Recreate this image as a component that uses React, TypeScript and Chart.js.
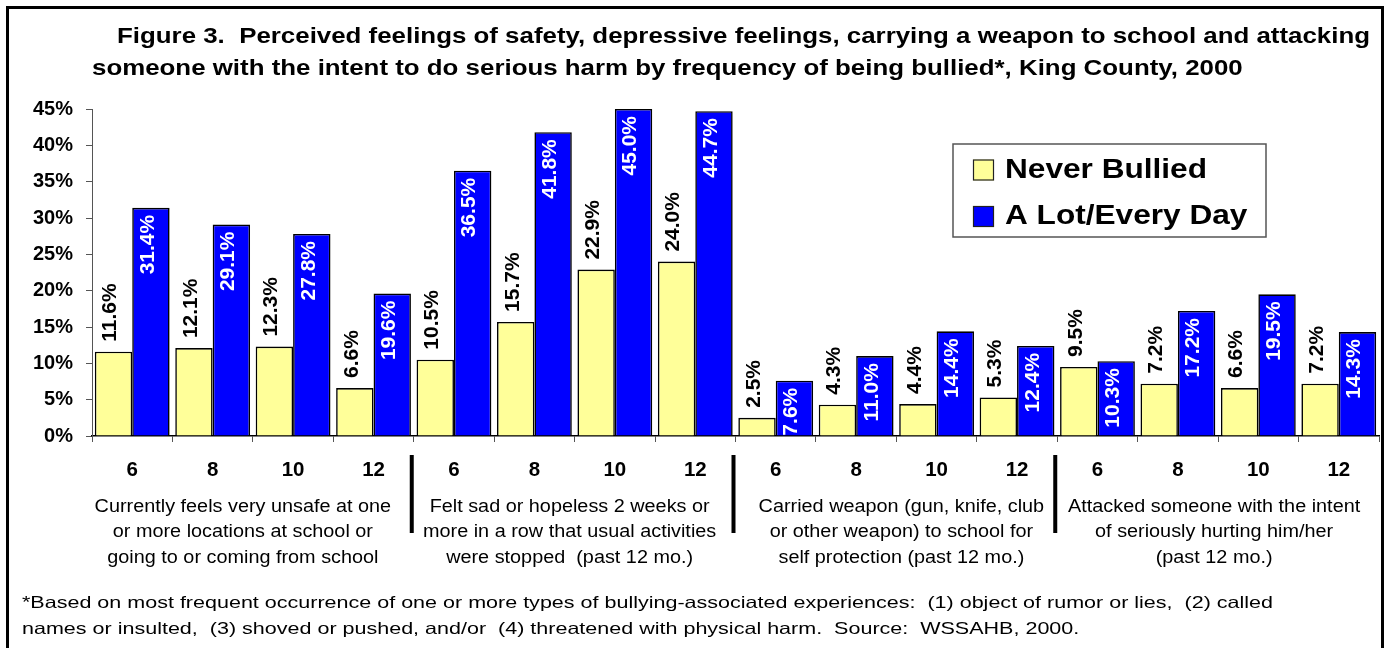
import React, { useEffect, useRef } from "react";
import { Chart, registerables } from "chart.js";

Chart.register(...registerables);

const grades = ["6", "8", "10", "12", "6", "8", "10", "12", "6", "8", "10", "12", "6", "8", "10", "12"];
const neverBullied = [11.6, 12.1, 12.3, 6.6, 10.5, 15.7, 22.9, 24.0, 2.5, 4.3, 4.4, 5.3, 9.5, 7.2, 6.6, 7.2];
const aLotEveryDay = [31.4, 29.1, 27.8, 19.6, 36.5, 41.8, 45.0, 44.7, 7.6, 11.0, 14.4, 12.4, 10.3, 17.2, 19.5, 14.3];
const seriesNames = ["Never Bullied", "A Lot/Every Day"];
const seriesColors = ["#FFFF99", "#0000FF"];
const labelColors = ["#000000", "#FFFFFF"];

const groupLabels = [
  ["Currently feels very unsafe at one", "or more locations at school or", "going to or coming from school"],
  ["Felt sad or hopeless 2 weeks or", "more in a row that usual activities", "were stopped  (past 12 mo.)"],
  ["Carried weapon (gun, knife, club", "or other weapon) to school for", "self protection (past 12 mo.)"],
  ["Attacked someone with the intent", "of seriously hurting him/her", "(past 12 mo.)"],
];
const groupLabelShift = [-10, -5, 5, -4];

const titleLines = [
  "Figure 3.  Perceived feelings of safety, depressive feelings, carrying a weapon to school and attacking",
  "someone with the intent to do serious harm by frequency of being bullied*, King County, 2000",
];

const footnoteLines = [
  "*Based on most frequent occurrence of one or more types of bullying-associated experiences:  (1) object of rumor or lies,  (2) called",
  "names or insulted,  (3) shoved or pushed, and/or  (4) threatened with physical harm.  Source:  WSSAHB, 2000.",
];

const Y_MIN = 0;
const Y_MAX = 45;
const Y_STEP = 5;

const FONT = '"Liberation Sans", Arial, Helvetica, sans-serif';

function drawScaled(ctx: CanvasRenderingContext2D, text: string, x: number, y: number, font: string, sx: number, align: string) {
  ctx.font = font;
  const w = ctx.measureText(text).width * sx;
  const left = align === "center" ? x - w / 2 : align === "right" ? x - w : x;
  ctx.save();
  ctx.translate(left, y);
  ctx.scale(sx, 1);
  ctx.textAlign = "left";
  ctx.fillText(text, 0, 0);
  ctx.restore();
}

function fitScale(ctx: CanvasRenderingContext2D, text: string, font: string, target: number) {
  ctx.font = font;
  return target / ctx.measureText(text).width;
}

const valueLabelPlugin = {
  id: "valueLabels",
  afterDatasetsDraw(chart: any) {
    const ctx: CanvasRenderingContext2D = chart.ctx;
    chart.data.datasets.forEach((ds: any, di: number) => {
      const meta = chart.getDatasetMeta(di);
      meta.data.forEach((bar: any, i: number) => {
        const v = ds.data[i];
        const txt = v.toFixed(1) + "%";
        ctx.save();
        ctx.font = `bold 21px ${FONT}`;
        ctx.fillStyle = labelColors[di];
        ctx.textBaseline = "middle";
        if (di === 0) {
          ctx.translate(bar.x - 3, bar.y - 10);
          ctx.rotate(-Math.PI / 2);
          ctx.textAlign = "left";
        } else {
          ctx.translate(bar.x - 3, bar.y + 7);
          ctx.rotate(-Math.PI / 2);
          ctx.textAlign = "right";
        }
        ctx.fillText(txt, 0, 0);
        ctx.restore();
      });
    });
  },
};

const decorPlugin = {
  id: "decor",
  afterDraw(chart: any) {
    const ctx: CanvasRenderingContext2D = chart.ctx;
    const xs = chart.scales.x;
    const area = chart.chartArea;
    const catW = (area.right - area.left) / grades.length;

    ctx.save();
    ctx.fillStyle = "#000";
    ctx.textBaseline = "alphabetic";

    // Title
    const tFont = `bold 21.5px ${FONT}`;
    const tsx = fitScale(ctx, titleLines[0], tFont, 1253);
    drawScaled(ctx, titleLines[0], 117, 43, tFont, tsx, "left");
    drawScaled(ctx, titleLines[1], 92, 75, tFont, tsx, "left");

    // Legend
    ctx.strokeStyle = "#555";
    ctx.lineWidth = 1.5;
    ctx.strokeRect(953, 144, 313, 93);
    const lFont = `bold 28px ${FONT}`;
    const lsx = fitScale(ctx, seriesNames[0], lFont, 202);
    const legY = [177.5, 224];
    seriesNames.forEach((name, i) => {
      ctx.fillStyle = seriesColors[i];
      ctx.fillRect(973, legY[i] - 18, 21, 21);
      ctx.strokeStyle = "#222";
      ctx.lineWidth = 1.2;
      ctx.strokeRect(973.5, legY[i] - 17.5, 20, 20);
      ctx.fillStyle = "#000";
      drawScaled(ctx, name, 1005, legY[i], lFont, lsx, "left");
    });

    // Group separators and labels
    const gFont = `17.5px ${FONT}`;
    const gsx = fitScale(ctx, groupLabels[1][0], gFont, 280);
    ctx.textBaseline = "middle";
    groupLabels.forEach((lines, g) => {
      const c0 = xs.getPixelForValue(g * 4);
      const c3 = xs.getPixelForValue(g * 4 + 3);
      const center = (c0 + c3) / 2;
      if (g > 0) {
        const bx = c0 - catW / 2 - 2;
        ctx.fillStyle = "#000";
        ctx.fillRect(bx - 2, 455, 4, 78);
      }
      ctx.fillStyle = "#000";
      lines.forEach((ln, k) => {
        drawScaled(ctx, ln, center + groupLabelShift[g], 507 + k * 25.5, gFont, gsx, "center");
      });
    });

    // Footnote
    ctx.textBaseline = "alphabetic";
    const fFont = `16.5px ${FONT}`;
    const fsx = fitScale(ctx, footnoteLines[0], fFont, 1251);
    drawScaled(ctx, footnoteLines[0], 22, 608, fFont, fsx, "left");
    drawScaled(ctx, footnoteLines[1], 22, 634, fFont, fsx, "left");

    // Outer border
    ctx.strokeStyle = "#000";
    ctx.lineWidth = 3;
    ctx.strokeRect(7.5, 7.5, 1375, 700);
    ctx.restore();
  },
};

export default function App() {
  const ref = useRef<HTMLCanvasElement | null>(null);

  useEffect(() => {
    document.body.style.margin = "0";
    const canvas = ref.current;
    if (!canvas) return;
    const chart = new Chart(canvas, {
      type: "bar",
      data: {
        labels: grades,
        datasets: [
          {
            label: seriesNames[0],
            data: neverBullied,
            backgroundColor: seriesColors[0],
            borderColor: "#000",
            borderWidth: 1.6,
            categoryPercentage: 0.93,
            barPercentage: 1.0,
          },
          {
            label: seriesNames[1],
            data: aLotEveryDay,
            backgroundColor: seriesColors[1],
            borderColor: "#000",
            borderWidth: 1.6,
            categoryPercentage: 0.93,
            barPercentage: 1.0,
          },
        ],
      },
      options: {
        responsive: false,
        animation: false,
        devicePixelRatio: 1,
        layout: { padding: { top: 109, right: 8, left: 0, bottom: 0 } },
        plugins: {
          legend: { display: false },
          title: { display: false },
          tooltip: { enabled: false },
        },
        scales: {
          x: {
            grid: { offset: true, drawOnChartArea: false, tickLength: 6, color: "#555" },
            border: { color: "#000", width: 1.5 },
            ticks: { font: { family: FONT, size: 20.5, weight: "bold" }, color: "#000", padding: 16, maxRotation: 0 },
            afterFit: (scale: any) => {
              scale.height = 212;
            },
          },
          y: {
            min: Y_MIN,
            max: Y_MAX,
            grid: { drawOnChartArea: false, tickLength: 6, color: "#555" },
            border: { color: "#555", width: 1 },
            ticks: {
              stepSize: Y_STEP,
              font: { family: FONT, size: 20, weight: "bold" },
              color: "#000",
              padding: 13,
              callback: (v: any) => v + "%",
            },
            afterFit: (scale: any) => {
              scale.width = 92;
            },
          },
        },
      },
      plugins: [valueLabelPlugin, decorPlugin],
    } as any);
    return () => chart.destroy();
  }, []);

  return (
    <div style={{ width: 1387, height: 648, position: "relative", background: "#fff" }}>
      <canvas ref={ref} width={1387} height={648} style={{ display: "block" }} />
    </div>
  );
}
